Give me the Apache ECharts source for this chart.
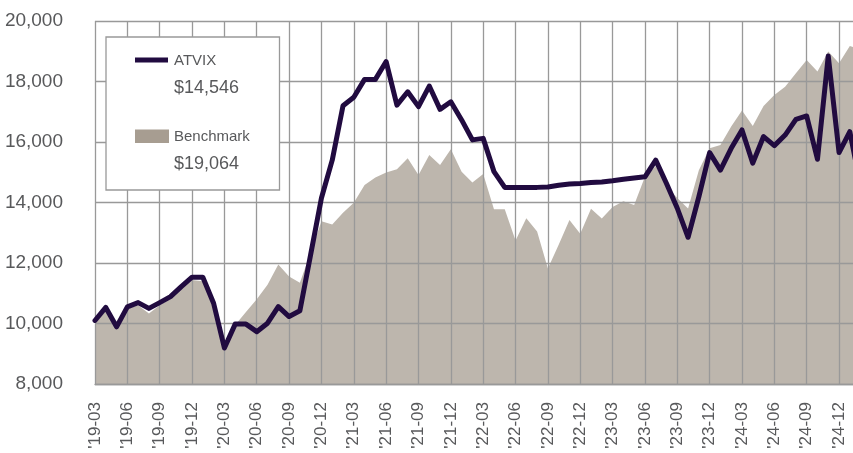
<!DOCTYPE html>
<html>
<head>
<meta charset="utf-8">
<script src="https://cdn.jsdelivr.net/npm/echarts@6/dist/echarts.min.js"></script>
<style>
html,body{margin:0;padding:0;background:#fff;}
#chart{width:853px;height:453px;}
</style>
</head>
<body>
<div id="chart"></div>
<script>
const categories = [
"'19-03","'19-04","'19-05","'19-06","'19-07","'19-08","'19-09","'19-10","'19-11","'19-12",
"'20-01","'20-02","'20-03","'20-04","'20-05","'20-06","'20-07","'20-08","'20-09","'20-10","'20-11","'20-12",
"'21-01","'21-02","'21-03","'21-04","'21-05","'21-06","'21-07","'21-08","'21-09","'21-10","'21-11","'21-12",
"'22-01","'22-02","'22-03","'22-04","'22-05","'22-06","'22-07","'22-08","'22-09","'22-10","'22-11","'22-12",
"'23-01","'23-02","'23-03","'23-04","'23-05","'23-06","'23-07","'23-08","'23-09","'23-10","'23-11","'23-12",
"'24-01","'24-02","'24-03","'24-04","'24-05","'24-06","'24-07","'24-08","'24-09","'24-10","'24-11","'24-12",
"'25-01","'25-02"
];

const atvix = [
10100,10530,9890,10550,10690,10500,10690,10890,11220,11530,
11530,10670,9190,9980,9980,9730,10010,10560,10230,10420,12280,14150,
15400,17200,17480,18070,18070,18660,17220,17660,17170,17850,17080,17330,
16730,16070,16120,15020,14500,14500,14500,14500,14510,14570,14610,14630,
14660,14680,14720,14770,14810,14850,15400,14630,13810,12850,14190,15650,
15070,15790,16400,15300,16180,15880,16230,16750,16860,15430,18840,15650,
16340,14546
];

const benchmark = [
10000,10420,9930,10480,10600,10330,10600,10820,11150,11440,
11400,10600,9250,9950,10380,10800,11280,11950,11550,11350,12350,13380,
13270,13660,13990,14580,14830,14990,15100,15460,14910,15570,15240,15760,
15020,14660,14940,13780,13780,12740,13480,13040,11820,12600,13420,12970,
13790,13470,13850,14040,13920,14850,15200,14550,14150,13800,15070,15790,
15900,16510,17040,16530,17190,17550,17830,18270,18710,18330,18990,18600,
19170,19064
];

const yTicks = { min: 8000, max: 20000, interval: 2000 };
const seriesNames = ['ATVIX', 'Benchmark'];

const fmt = v => '$' + v.toLocaleString('en-US');
const fam = '"Liberation Sans",Arial,sans-serif';
const textColor = '#58595b';
const lineColor = '#210b40';
const areaColor = '#bdb6ad';
const gridColor = '#999999';

const chart = echarts.init(document.getElementById('chart'), null, {renderer: 'canvas'});
chart.setOption({
  animation: false,
  backgroundColor: '#ffffff',
  grid: { left: 95, top: 21, width: 765.6, bottom: 69, containLabel: false, outerBoundsMode: 'none' },
  xAxis: {
    type: 'category',
    data: categories,
    boundaryGap: false,
    z: 3,
    axisLine: { show: true, lineStyle: { color: gridColor, width: 1.3 } },
    axisTick: { show: false },
    splitLine: { show: true, interval: 2, lineStyle: { color: gridColor, width: 1.3 } },
    axisLabel: {
      interval: 2, rotate: 90, margin: 18,
      color: textColor, fontFamily: fam, fontSize: 17
    }
  },
  yAxis: {
    type: 'value',
    min: yTicks.min, max: yTicks.max, interval: yTicks.interval,
    z: 3,
    axisLine: { show: false },
    axisTick: { show: false },
    splitLine: { show: true, lineStyle: { color: gridColor, width: 1.3 } },
    axisLabel: {
      margin: 32, color: textColor, fontFamily: fam, fontSize: 19,
      formatter: v => v.toLocaleString('en-US')
    }
  },
  series: [
    {
      name: seriesNames[1], type: 'line', data: benchmark, z: 2,
      symbol: 'none', lineStyle: { width: 0 },
      areaStyle: { color: areaColor, opacity: 1 }
    },
    {
      name: seriesNames[0], type: 'line', data: atvix, z: 10,
      symbol: 'none',
      lineStyle: { color: lineColor, width: 5, join: 'round', cap: 'round' }
    }
  ],
  graphic: [
    { type: 'rect', z: 100, shape: { x: 106, y: 37, width: 173.5, height: 153 },
      style: { fill: '#ffffff', stroke: gridColor, lineWidth: 1.3 } },
    { type: 'rect', z: 101, shape: { x: 135, y: 57.5, width: 33, height: 5 },
      style: { fill: lineColor } },
    { type: 'text', z: 101, x: 174, y: 61, style: { text: seriesNames[0], fill: textColor,
      font: '15px ' + fam, verticalAlign: 'middle' } },
    { type: 'text', z: 101, x: 174, y: 88, style: { text: fmt(atvix[atvix.length - 1]), fill: textColor,
      font: '18px ' + fam, verticalAlign: 'middle' } },
    { type: 'rect', z: 101, shape: { x: 135, y: 129.5, width: 34, height: 13.5 },
      style: { fill: '#a79d91' } },
    { type: 'text', z: 101, x: 174, y: 137, style: { text: seriesNames[1], fill: textColor,
      font: '15px ' + fam, verticalAlign: 'middle' } },
    { type: 'text', z: 101, x: 174, y: 164, style: { text: fmt(benchmark[benchmark.length - 1]), fill: textColor,
      font: '18px ' + fam, verticalAlign: 'middle' } }
  ]
});
</script>
</body>
</html>
